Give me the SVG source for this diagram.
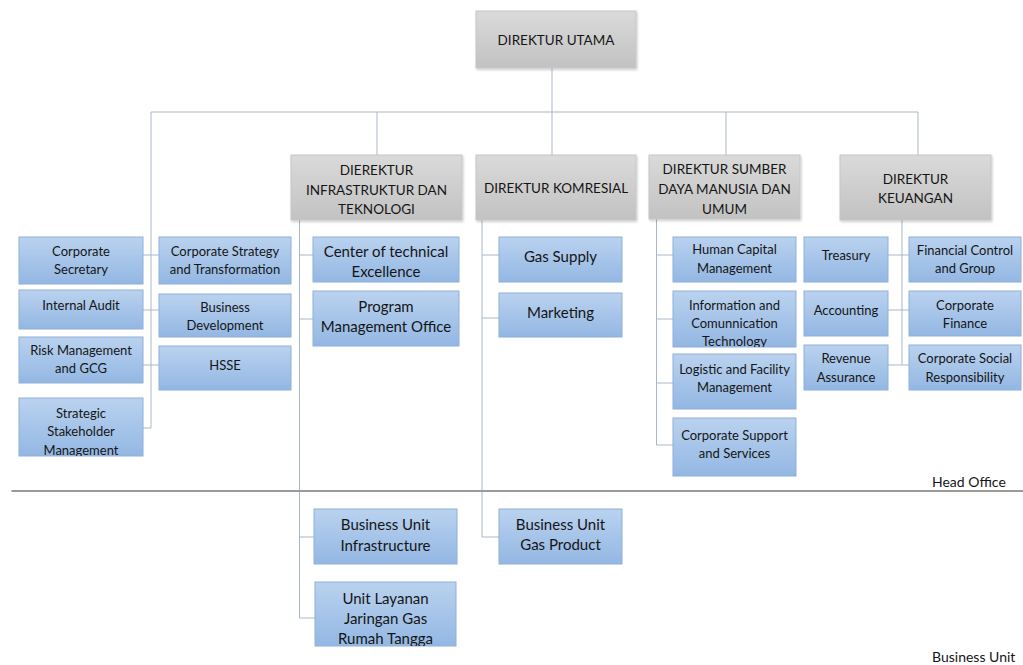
<svg xmlns="http://www.w3.org/2000/svg" width="1023" height="665" viewBox="0 0 1023 665">
<style>
.b{fill:url(#gb);stroke:#8fb0d8;stroke-width:1}
.d{fill:url(#gg);stroke:#c6c6c6;stroke-width:1;filter:url(#sh)}
text{font-family:Lato,"Liberation Sans",sans-serif;fill:#151515;text-anchor:middle;dominant-baseline:central}
.t{font-size:13px}
.m{font-size:15px}
.h{font-size:13.5px}
.c{fill:none;stroke:#a9b7c7;stroke-width:1}
.lbl{font-size:14px;text-anchor:start}
</style>
<defs>
<linearGradient id="gb" x1="0" y1="0" x2="0" y2="1"><stop offset="0" stop-color="#bad2ef"/><stop offset="1" stop-color="#93b7e3"/></linearGradient>
<linearGradient id="gg" x1="0" y1="0" x2="0" y2="1"><stop offset="0" stop-color="#dadada"/><stop offset="1" stop-color="#c2c2c2"/></linearGradient>
<filter id="sh" x="-5%" y="-5%" width="115%" height="120%"><feDropShadow dx="1" dy="1.5" stdDeviation="1" flood-color="#000" flood-opacity="0.2"/></filter>
<clipPath id="c1"><rect x="19" y="398" width="124" height="58"/></clipPath>
<clipPath id="c2"><rect x="673" y="291" width="123" height="56"/></clipPath>
<clipPath id="c3"><rect x="315" y="582" width="141" height="64"/></clipPath>
</defs>

<g id="connectors">
<path class="c" d="M552 68V155M151 112H918M377 112V155M726 112V155M918 112V155"/>
<path class="c" d="M151 112V428H143M143 255H159M143 310H159M143 365H159"/>
<path class="c" d="M299.5 220V618H315M299.5 255H313M299.5 319H313M299.5 537H314"/>
<path class="c" d="M482 220V537H499M482 255H499M482 318H499"/>
<path class="c" d="M656.5 219V445H673M656.5 255H673M656.5 319H673M656.5 383H673"/>
<path class="c" d="M902 220V365M888 255H909M888 310H909M888 365H909"/>
</g>

<line x1="11.5" y1="491" x2="1023" y2="491" stroke="#9a9a9a" stroke-width="2"/>
<text class="lbl" x="932" y="481">Head Office</text>
<text class="lbl" x="932" y="656">Business Unit</text>

<g id="n-utama"><rect class="d" x="476" y="11" width="160" height="57"/><text class="h" x="556" y="40">DIREKTUR UTAMA</text></g>
<g id="n-infra"><rect class="d" x="291" y="155" width="171" height="65"/><text class="h" x="376.5" y="170">DIEREKTUR</text><text class="h" x="376.5" y="189.5">INFRASTRUKTUR DAN</text><text class="h" x="376.5" y="209">TEKNOLOGI</text></g>
<g id="n-komresial"><rect class="d" x="476" y="155" width="160" height="65"/><text class="h" x="556" y="188">DIREKTUR KOMRESIAL</text></g>
<g id="n-sdm"><rect class="d" x="649" y="155" width="151" height="64"/><text class="h" x="724.5" y="169">DIREKTUR SUMBER</text><text class="h" x="724.5" y="189">DAYA MANUSIA DAN</text><text class="h" x="724.5" y="209">UMUM</text></g>
<g id="n-keuangan"><rect class="d" x="840" y="155" width="151" height="65"/><text class="h" x="915.5" y="179">DIREKTUR</text><text class="h" x="915.5" y="198">KEUANGAN</text></g>

<g id="n-corpsec"><rect class="b" x="19" y="237" width="124" height="47"/><text class="t" x="81" y="251">Corporate</text><text class="t" x="81" y="269">Secretary</text></g>
<g id="n-audit"><rect class="b" x="19" y="290" width="124" height="39"/><text class="t" x="81" y="305">Internal Audit</text></g>
<g id="n-risk"><rect class="b" x="19" y="337" width="124" height="46"/><text class="t" x="81" y="350">Risk Management</text><text class="t" x="81" y="368">and GCG</text></g>
<g id="n-ssm"><rect class="b" x="19" y="398" width="124" height="58"/><g clip-path="url(#c1)"><text class="t" x="81" y="413">Strategic</text><text class="t" x="81" y="431">Stakeholder</text><text class="t" x="81" y="450">Management</text></g></g>

<g id="n-cst"><rect class="b" x="159" y="237" width="132" height="47"/><text class="t" x="225" y="251">Corporate Strategy</text><text class="t" x="225" y="269">and Transformation</text></g>
<g id="n-bd"><rect class="b" x="159" y="294" width="132" height="43"/><text class="t" x="225" y="307">Business</text><text class="t" x="225" y="325">Development</text></g>
<g id="n-hsse"><rect class="b" x="159" y="346" width="132" height="44"/><text class="t" x="225" y="365">HSSE</text></g>

<g id="n-cte"><rect class="b" x="313" y="237" width="146" height="45"/><text class="m" x="386" y="251">Center of technical</text><text class="m" x="386" y="271">Excellence</text></g>
<g id="n-pmo"><rect class="b" x="313" y="291" width="146" height="55"/><text class="m" x="386" y="306">Program</text><text class="m" x="386" y="326">Management Office</text></g>

<g id="n-gas"><rect class="b" x="499" y="237" width="123" height="45"/><text class="m" x="560.5" y="256">Gas Supply</text></g>
<g id="n-mkt"><rect class="b" x="499" y="293" width="123" height="44"/><text class="m" x="560.5" y="312">Marketing</text></g>

<g id="n-hcm"><rect class="b" x="673" y="237" width="123" height="45"/><text class="t" x="734.5" y="249">Human Capital</text><text class="t" x="734.5" y="268">Management</text></g>
<g id="n-ict"><rect class="b" x="673" y="291" width="123" height="56"/><g clip-path="url(#c2)"><text class="t" x="734.5" y="305">Information and</text><text class="t" x="734.5" y="323">Comunnication</text><text class="t" x="734.5" y="341">Technology</text></g></g>
<g id="n-log"><rect class="b" x="673" y="354" width="123" height="55"/><text class="t" x="734.5" y="369">Logistic and Facility</text><text class="t" x="734.5" y="387">Management</text></g>
<g id="n-css"><rect class="b" x="673" y="418" width="123" height="58"/><text class="t" x="734.5" y="435">Corporate Support</text><text class="t" x="734.5" y="453">and Services</text></g>

<g id="n-treasury"><rect class="b" x="804" y="237" width="84" height="45"/><text class="t" x="846" y="255">Treasury</text></g>
<g id="n-acc"><rect class="b" x="804" y="291" width="84" height="45"/><text class="t" x="846" y="310">Accounting</text></g>
<g id="n-rev"><rect class="b" x="804" y="345" width="84" height="45"/><text class="t" x="846" y="358">Revenue</text><text class="t" x="846" y="377">Assurance</text></g>

<g id="n-fcg"><rect class="b" x="909" y="237" width="112" height="45"/><text class="t" x="965" y="250">Financial Control</text><text class="t" x="965" y="268">and Group</text></g>
<g id="n-cf"><rect class="b" x="909" y="291" width="112" height="45"/><text class="t" x="965" y="305">Corporate</text><text class="t" x="965" y="323">Finance</text></g>
<g id="n-csr"><rect class="b" x="909" y="345" width="112" height="45"/><text class="t" x="965" y="358">Corporate Social</text><text class="t" x="965" y="377">Responsibility</text></g>

<g id="n-bui"><rect class="b" x="314" y="509" width="143" height="55"/><text class="m" x="385.5" y="524">Business Unit</text><text class="m" x="385.5" y="545">Infrastructure</text></g>
<g id="n-ulj"><rect class="b" x="315" y="582" width="141" height="64"/><g clip-path="url(#c3)"><text class="m" x="385.5" y="598">Unit Layanan</text><text class="m" x="385.5" y="618">Jaringan Gas</text><text class="m" x="385.5" y="638">Rumah Tangga</text></g></g>
<g id="n-bugp"><rect class="b" x="499" y="509" width="123" height="55"/><text class="m" x="560.5" y="524">Business Unit</text><text class="m" x="560.5" y="544">Gas Product</text></g>
</svg>
